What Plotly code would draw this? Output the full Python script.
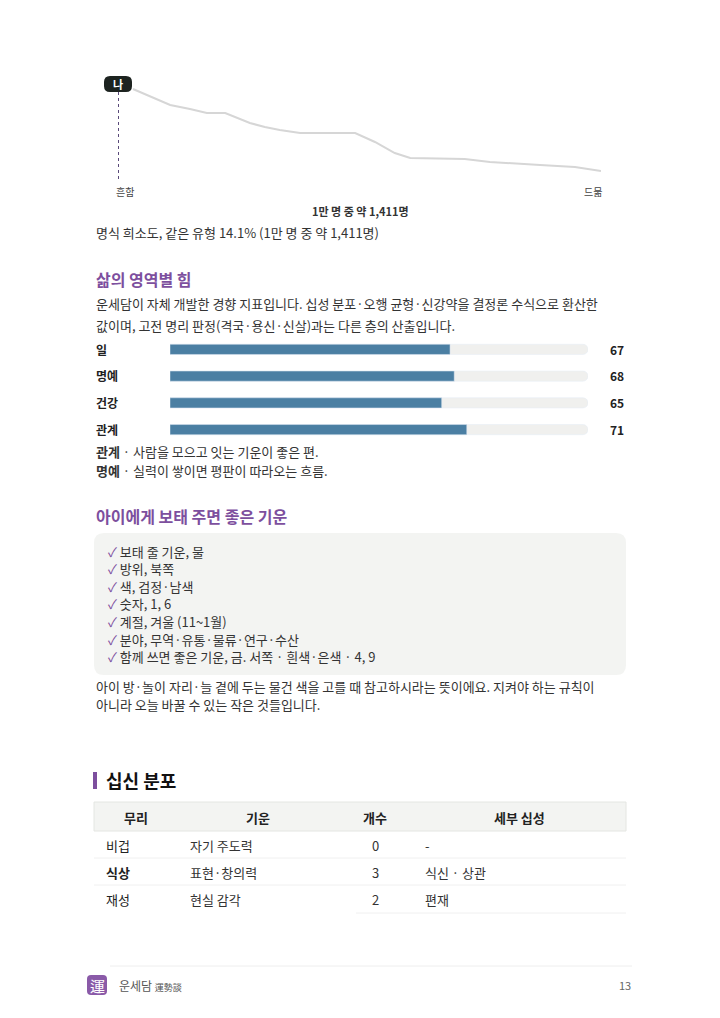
import plotly.graph_objects as go

W, H = 720, 1018
FONT = "Noto Sans CJK KR"
PURPLE = "#7d4f9e"
TXT = "#333333"

# rarity curve (position along rank, relative share)
curve_x = [3.1, 10.8, 14.9, 18.4, 22.2, 27.3, 30.4, 33.5, 37.7, 49.1, 53.2, 57.3, 60.5, 71.8, 77.0, 81.2, 85.3, 87.4, 94.6, 100]
curve_y = [91, 75, 71, 67, 67, 57, 53, 50, 47, 47, 38, 27, 22, 21, 18, 17, 16, 15, 13, 9]
me_x, me_y = 0, 96

areas = ["일", "명예", "건강", "관계"]
area_vals = [67, 68, 65, 71]

checks = ["보태 줄 기운, 물", "방위, 북쪽", "색, 검정·남색", "숫자, 1, 6", "계절, 겨울 (11~1월)",
          "분야, 무역·유통·물류·연구·수산", "함께 쓰면 좋은 기운, 금. 서쪽 · 흰색·은색 · 4, 9"]

tbl_head = ["무리", "기운", "개수", "세부 십성"]
tbl_group = ["비겁", "식상", "재성"]
tbl_energy = ["자기 주도력", "표현·창의력", "현실 감각"]
tbl_count = [0, 3, 2]
tbl_detail = ["-", "식신 · 상관", "편재"]

# the page puts the figure 8px in from the corner
OFF = 8


def px(x):
    return (x - OFF) / W


def py(y):
    return 1 - (y - OFF) / H


def rounded(x0, y0, x1, y1, r):
    a0, a1, b0, b1 = px(x0), px(x1), py(y1), py(y0)
    rx, ry = r / W, r / H
    return (f"M{a0+rx},{b0} L{a1-rx},{b0} Q{a1},{b0} {a1},{b0+ry} L{a1},{b1-ry} Q{a1},{b1} {a1-rx},{b1} "
            f"L{a0+rx},{b1} Q{a0},{b1} {a0},{b1-ry} L{a0},{b0+ry} Q{a0},{b0} {a0+rx},{b0} Z")


fig = go.Figure()
fig.add_trace(go.Scatter(x=curve_x, y=curve_y, mode="lines", line=dict(color="#d6d6d6", width=2),
                         hoverinfo="skip", xaxis="x", yaxis="y"))
fig.add_trace(go.Scatter(x=[me_x, me_x], y=[me_y - 8, 0], mode="lines",
                         line=dict(color="#5a4a7a", width=2, dash="dot"), xaxis="x", yaxis="y"))
fig.add_trace(go.Bar(x=[100] * len(areas), y=areas, orientation="h",
                     marker=dict(color="#f0f0ee", cornerradius=5),
                     width=0.38, xaxis="x2", yaxis="y2", hoverinfo="skip"))
fig.add_trace(go.Bar(x=area_vals, y=areas, orientation="h", marker=dict(color="#4b7fa3", cornerradius=5),
                     width=0.38, xaxis="x2", yaxis="y2"))

ann = []


def t(x, y, s, size=13, color=TXT, bold=False, xa="left"):
    ann.append(dict(x=px(x), y=py(y), xref="paper", yref="paper", text=f"<b>{s}</b>" if bold else s,
                    showarrow=False, xanchor=xa, yanchor="middle",
                    font=dict(family=FONT, size=size, color=color)))


t(118, 84, "나", 11, "white", True, "center")
t(125, 191, "흔함", 10, "#444", xa="center")
t(593, 191, "드묾", 10, "#444", xa="center")
t(360, 211, "1만 명 중 약 1,411명", 11, "#333", True, "center")
t(94, 233, "명식 희소도, 같은 유형 14.1% (1만 명 중 약 1,411명)", 13)
t(94, 279, "삶의 영역별 힘", 16, PURPLE, True)
t(94, 303, "운세담이 자체 개발한 경향 지표입니다. 십성 분포·오행 균형·신강약을 결정론 수식으로 환산한", 13)
t(94, 325, "값이며, 고전 명리 판정(격국·용신·신살)과는 다른 층의 산출입니다.", 13)
for i, (a, v) in enumerate(zip(areas, area_vals)):
    yy = 349 + i * 26.7
    t(94, yy, a, 12, "#222", True)
    t(626, yy, str(v), 12, "#222", True, "right")
t(94, 451, "<b>관계</b> · 사람을 모으고 잇는 기운이 좋은 편.", 13)
t(94, 470, "<b>명예</b> · 실력이 쌓이면 평판이 따라오는 흐름.", 13)
t(94, 516, "아이에게 보태 주면 좋은 기운", 16, PURPLE, True)
for i, c in enumerate(checks):
    t(106, 551 + i * 17.6, f"<span style='color:{PURPLE}'>✓</span> {c}", 13)
t(94, 686, "아이 방·놀이 자리·늘 곁에 두는 물건 색을 고를 때 참고하시라는 뜻이에요. 지켜야 하는 규칙이", 13)
t(94, 704, "아니라 오늘 바꿀 수 있는 작은 것들입니다.", 13)
t(104, 780, "십신 분포", 18, "#111", True)
for h, cx in zip(tbl_head, [136, 258, 375, 519]):
    t(cx, 817, h, 13, "#222", True, "center")
for i in range(3):
    yy = 845 + i * 27
    t(104, yy, tbl_group[i], 13, "#222", i == 1)
    t(188, yy, tbl_energy[i], 13)
    t(375, yy, str(tbl_count[i]), 13, TXT, False, "center")
    t(423, yy, tbl_detail[i], 13)
t(97, 985, "運", 15, "white", False, "center")
t(117, 985, "운세담 <span style='font-size:9px'>運勢談</span>", 12, "#555")
t(633, 985, "13", 11, "#666", xa="right")

shapes = [
    dict(type="path", xref="paper", yref="paper", path=rounded(104, 76, 132, 92, 6),
         fillcolor="#1d2320", line_width=0),
    dict(type="path", xref="paper", yref="paper", path=rounded(94, 533, 626, 675, 10),
         fillcolor="#f3f4f2", line_width=0, layer="below"),
    dict(type="rect", xref="paper", yref="paper", x0=px(93), x1=px(97), y0=py(789), y1=py(772),
         fillcolor=PURPLE, line_width=0),
    dict(type="rect", xref="paper", yref="paper", x0=px(94), x1=px(626), y0=py(831), y1=py(802),
         fillcolor="#f3f4f2", line=dict(color="#e4e6e2", width=1), layer="below"),
    dict(type="path", xref="paper", yref="paper", path=rounded(87, 975, 107, 995, 4),
         fillcolor="#8a5aa8", line_width=0, layer="below"),
    dict(type="line", xref="paper", yref="paper", x0=px(110), x1=px(632), y0=py(966), y1=py(966),
         line=dict(color="#eeeeee", width=1)),
]
for yy in [858, 885]:
    shapes.append(dict(type="line", xref="paper", yref="paper", x0=px(94), x1=px(626), y0=py(yy), y1=py(yy),
                       line=dict(color="#f0f0f0", width=1)))
shapes.append(dict(type="line", xref="paper", yref="paper", x0=px(356), x1=px(626), y0=py(913), y1=py(913),
                   line=dict(color="#f0f0f0", width=1)))

fig.update_layout(
    width=W, height=H, margin=dict(l=0, r=0, t=0, b=0), paper_bgcolor="white", plot_bgcolor="white",
    showlegend=False, barmode="overlay", annotations=ann, shapes=shapes,
    xaxis=dict(domain=[px(118), px(601)], range=[0, 100], visible=False),
    yaxis=dict(domain=[py(180), py(80)], range=[0, 100], visible=False),
    xaxis2=dict(domain=[px(170), px(588)], range=[0, 100], visible=False),
    yaxis2=dict(domain=[py(443), py(336)], range=[3.5, -0.5], visible=False),
)
fig.write_html("out.html")
